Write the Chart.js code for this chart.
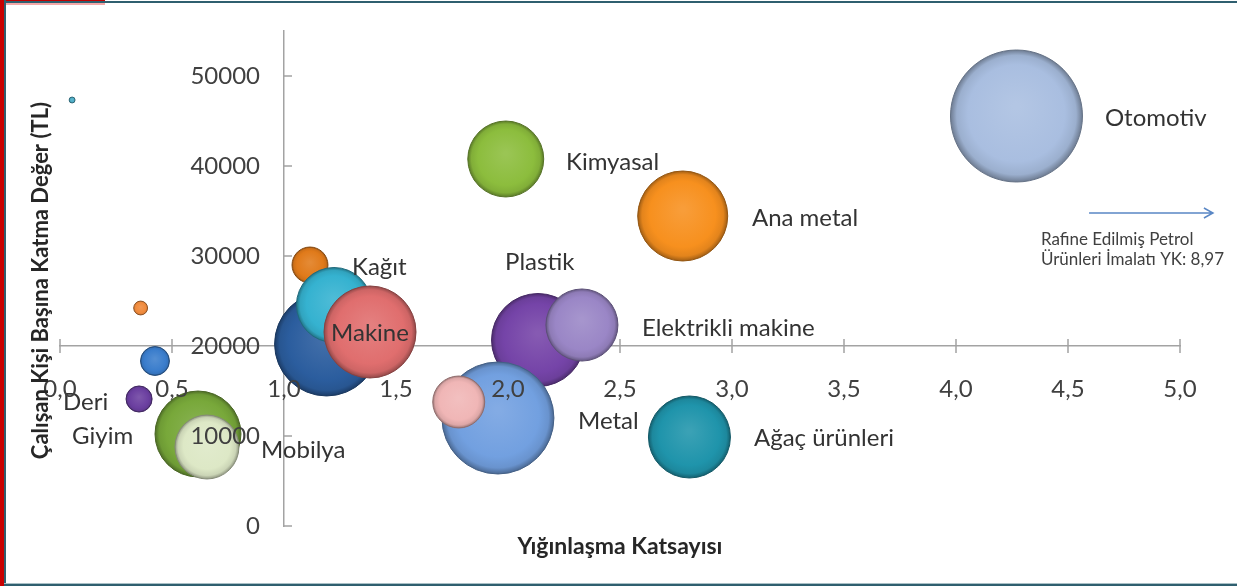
<!DOCTYPE html>
<html><head><meta charset="utf-8">
<script src="https://cdn.jsdelivr.net/npm/chart.js@4.4.1/dist/chart.umd.min.js"></script>
<style>
html,body{margin:0;padding:0;background:#fff;}
#wrap{position:relative;width:1237px;height:586px;overflow:hidden;background:#fff;}
canvas{position:absolute;left:0;top:0;}
.b{position:absolute;}
</style></head><body>
<div id="wrap">
<canvas id="c" width="1237" height="586"></canvas>
<div class="b" style="left:4px;top:1px;width:1233px;height:2px;background:#2f5f6f"></div>
<div class="b" style="left:6px;top:3px;width:99px;height:2px;background:#f4a8a8"></div>
<div class="b" style="left:0;top:0;width:105px;height:1px;background:#c00000"></div>
<div class="b" style="left:0;top:0;width:4px;height:586px;background:#c80000"></div>
<div class="b" style="left:4px;top:0;width:2px;height:586px;background:#2f5f6f"></div>
<div class="b" style="left:4px;top:583px;width:1233px;height:1px;background:#a9c0c6"></div>
<div class="b" style="left:4px;top:584px;width:1233px;height:2px;background:#2f5f6f"></div>
</div>
<script>
// ---- data ----
const xTicks = [0, 0.5, 1, 1.5, 2, 2.5, 3, 3.5, 4, 4.5, 5];
const yTicks = [0, 10000, 20000, 30000, 40000, 50000];

// bubbles, in drawing order
const bubbleX    = [0.054, 0.36, 0.424, 0.353, 0.616, 0.656, 1.19, 1.116, 1.223, 1.384, 2.134, 2.33, 1.955, 1.78, 2.81, 1.99, 2.78, 4.27];
const bubbleY    = [47333, 24222, 18333, 14111, 10222, 8778, 20222, 29000, 24556, 21556, 20667, 22333, 12000, 13778, 9889, 40778, 34444, 45556];
const bubbleSize = [0.2, 1.1, 4.8, 3.9, 42.4, 23.5, 62, 7.4, 32.3, 48.6, 49.6, 29.8, 72, 15.5, 38.6, 33.1, 46.5, 100];
const bubbleColors = ['#4bacc6', '#f08a3c', '#3a7dcc', '#6b3fa0', '#78a83a', '#dde8c6', '#2b5d9e', '#e07a1a', '#35b2d0', '#e06e6e', '#7544a8', '#9a86c6', '#72a0e0', '#f0b6b6', '#1f94ab', '#8cbd3d', '#f7901e', '#a9bee0'];

// text labels (anchor in data units, left aligned)
const labelTexts = ['Otomotiv', 'Kimyasal', 'Ana metal', 'Plastik', 'Kağıt', 'Makine', 'Elektrikli makine', 'Metal', 'Ağaç ürünleri', 'Deri', 'Giyim', 'Mobilya'];
const labelX = [4.665, 2.259, 3.089, 1.987, 1.304, 1.21, 2.598, 2.3125, 3.098, 0.013, 0.054, 0.897];
const labelY = [45333, 40444, 34222, 29333, 28778, 21444, 22000, 11667, 9778, 13778, 10000, 8444];

const noteLines = ['Rafine Edilmiş Petrol', 'Ürünleri İmalatı YK: 8,97'];
const noteX = 4.379;
const noteY = [31778, 29556];
const arrowFrom = [4.594, 34778];
const arrowTo = [5.147, 34778];

const xTitle = 'Yığınlaşma Katsayısı';
const yTitle = 'Çalışan Kişi Başına Katma Değer (TL)';

// ---- helpers ----
function shade(hex, f) {
  const n = parseInt(hex.slice(1), 16);
  let r = (n >> 16) & 255, g = (n >> 8) & 255, b = n & 255;
  if (f >= 0) { r += (255 - r) * f; g += (255 - g) * f; b += (255 - b) * f; }
  else { r *= 1 + f; g *= 1 + f; b *= 1 + f; }
  return 'rgb(' + Math.round(r) + ',' + Math.round(g) + ',' + Math.round(b) + ')';
}

const points = bubbleX.map((x, i) => ({ x: x, y: bubbleY[i], r: 6.6 * Math.sqrt(bubbleSize[i]) }));

function bubbleFill(ctx) {
  const base = bubbleColors[ctx.dataIndex % bubbleColors.length];
  const chart = ctx.chart;
  const xs = chart.scales.x, ys = chart.scales.y;
  if (ctx.type !== 'data' || !xs || !ys || !ctx.raw) return base;
  const cx = xs.getPixelForValue(ctx.raw.x), cy = ys.getPixelForValue(ctx.raw.y), r = Math.max(ctx.raw.r, 1);
  if (!isFinite(cx) || !isFinite(cy)) return base;
  const g = chart.ctx.createRadialGradient(cx, cy - r * 0.15, r * 0.05, cx, cy, r);
  g.addColorStop(0, shade(base, 0.12));
  g.addColorStop(0.72, base);
  g.addColorStop(0.9, shade(base, -0.08));
  g.addColorStop(1, shade(base, -0.35));
  return g;
}

const tickPlugin = {
  id: 'tickMarks',
  beforeDatasetsDraw(chart) {
    const c = chart.ctx, xs = chart.scales.x, ys = chart.scales.y;
    const ay = ys.getPixelForValue(20000), ax = xs.getPixelForValue(1);
    c.save();
    c.strokeStyle = '#a3a3a3';
    c.lineWidth = 1.5;
    c.beginPath();
    xTicks.forEach(v => { const px = xs.getPixelForValue(v); c.moveTo(px, ay - 7); c.lineTo(px, ay + 7); });
    yTicks.forEach(v => { const py = ys.getPixelForValue(v); c.moveTo(ax, py); c.lineTo(ax + 8, py); });
    c.stroke();
    c.restore();
  }
};

const annoPlugin = {
  id: 'annotations',
  afterDatasetsDraw(chart) {
    const c = chart.ctx, xs = chart.scales.x, ys = chart.scales.y;
    c.save();
    // y tick labels, right aligned left of the y axis
    c.fillStyle = '#404040';
    c.font = '24px Lato';
    c.textAlign = 'right';
    c.textBaseline = 'middle';
    const ax = xs.getPixelForValue(1);
    yTicks.forEach(v => c.fillText(String(v), ax - 24, ys.getPixelForValue(v)));
    // category labels
    c.fillStyle = '#333333';
    c.font = '24px Lato';
    c.textAlign = 'left';
    labelTexts.forEach((t, i) => c.fillText(t, xs.getPixelForValue(labelX[i]), ys.getPixelForValue(labelY[i])));
    // arrow
    const x1 = xs.getPixelForValue(arrowFrom[0]), y1 = ys.getPixelForValue(arrowFrom[1]);
    const x2 = xs.getPixelForValue(arrowTo[0]), y2 = ys.getPixelForValue(arrowTo[1]);
    c.strokeStyle = '#5a87c5';
    c.lineWidth = 1.5;
    c.beginPath();
    c.moveTo(x1, y1); c.lineTo(x2, y2);
    c.moveTo(x2 - 9, y2 - 5); c.lineTo(x2, y2); c.lineTo(x2 - 9, y2 + 5);
    c.stroke();
    c.font = '17px Lato';
    c.fillStyle = '#404040';
    noteLines.forEach((t, i) => c.fillText(t, xs.getPixelForValue(noteX), ys.getPixelForValue(noteY[i])));
    c.restore();
  },
  afterDraw(chart) {
    const c = chart.ctx, a = chart.chartArea;
    c.save();
    c.fillStyle = '#262626';
    c.font = 'bold 23px Lato';
    c.textAlign = 'center';
    c.textBaseline = 'middle';
    c.fillText(xTitle, (a.left + a.right) / 2, a.bottom + 21);
    c.font = 'bold 22px Lato';
    c.translate(a.left - 19, (a.top + a.bottom) / 2 + 2);
    c.rotate(-Math.PI / 2);
    c.fillText(yTitle, 0, 0);
    c.restore();
  }
};

new Chart(document.getElementById('c'), {
  type: 'bubble',
  data: {
    datasets: [{
      data: points,
      backgroundColor: bubbleFill,
      borderColor: ctx => shade(bubbleColors[ctx.dataIndex % bubbleColors.length], -0.4),
      borderWidth: 1,
      hoverRadius: 0,
      clip: false
    }]
  },
  options: {
    responsive: false,
    animation: false,
    events: [],
    layout: { autoPadding: false, padding: { left: 60, right: 57, top: 31, bottom: 60 } },
    plugins: { legend: { display: false }, tooltip: { enabled: false } },
    scales: {
      x: {
        type: 'linear',
        min: 0, max: 5,
        position: { y: 20000 },
        afterBuildTicks: s => { s.ticks = xTicks.map(v => ({ value: v })); },
        grid: { display: false, drawTicks: false },
        border: { display: true, color: '#a3a3a3', width: 1.5 },
        ticks: {
          z: 1, padding: 29, color: '#404040', font: { family: 'Lato', size: 24 },
          maxRotation: 0, autoSkip: false,
          callback: v => v.toFixed(1).replace('.', ',')
        }
      },
      y: {
        type: 'linear',
        min: 0, max: 55000,
        position: { x: 1 },
        afterBuildTicks: s => { s.ticks = yTicks.map(v => ({ value: v })); },
        grid: { display: false, drawTicks: false },
        border: { display: true, color: '#a3a3a3', width: 1.5 },
        ticks: { display: false }
      }
    }
  },
  plugins: [tickPlugin, annoPlugin]
});
</script>
</body></html>
